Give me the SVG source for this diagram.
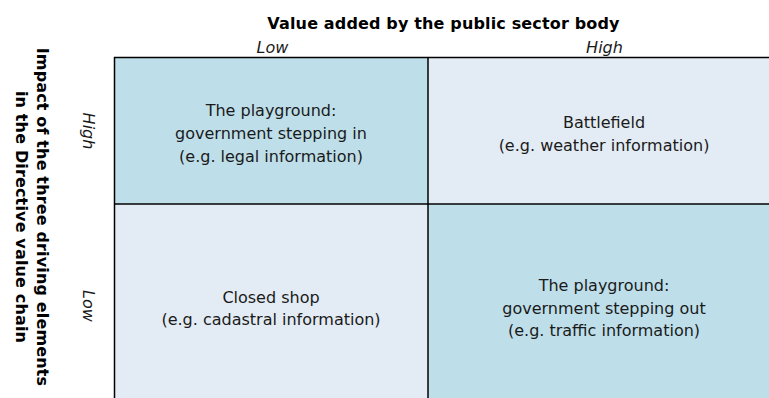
<svg xmlns="http://www.w3.org/2000/svg" width="769" height="398" viewBox="0 0 769 398">
<style>
.dark{fill:#BEDFEA}
.light{fill:#E3ECF4}
.cell{font-family:"DejaVu Sans","Liberation Sans",sans-serif;font-size:16px;fill:#1a1a1a;text-anchor:middle}
.axis{font-family:"DejaVu Sans","Liberation Sans",sans-serif;font-size:16px;font-weight:bold;fill:#000;text-anchor:middle;letter-spacing:0.15px}
.lvl{font-family:"DejaVu Sans","Liberation Sans",sans-serif;font-size:16px;font-style:italic;fill:#1a1a1a;text-anchor:middle}
.grid{stroke:#000;stroke-width:1.5;fill:none}
</style>
<rect width="769" height="398" fill="#fff"/>
<g id="q-playground-in">
<rect class="dark" x="114" y="57" width="314" height="147"/>
<text class="cell" x="271" y="115.5">The playground:</text>
<text class="cell" x="271" y="138.5">government stepping in</text>
<text class="cell" x="271" y="161.5">(e.g. legal information)</text>
</g>
<g id="q-battlefield">
<rect class="light" x="428" y="57" width="341" height="147"/>
<text class="cell" x="604" y="127.5">Battlefield</text>
<text class="cell" x="604" y="150.5">(e.g. weather information)</text>
</g>
<g id="q-closed-shop">
<rect class="light" x="114" y="204" width="314" height="194"/>
<text class="cell" x="271" y="302.5">Closed shop</text>
<text class="cell" x="271" y="325">(e.g. cadastral information)</text>
</g>
<g id="q-playground-out">
<rect class="dark" x="428" y="204" width="341" height="194"/>
<text class="cell" x="604" y="291">The playground:</text>
<text class="cell" x="604" y="313.5">government stepping out</text>
<text class="cell" x="604" y="336">(e.g. traffic information)</text>
</g>
<g id="grid" class="grid">
<line x1="114" y1="57.5" x2="769" y2="57.5"/>
<line x1="114.5" y1="57" x2="114.5" y2="398"/>
<line x1="428" y1="57" x2="428" y2="398"/>
<line x1="114" y1="204" x2="769" y2="204"/>
</g>
<g id="x-axis">
<text class="axis" x="443.5" y="29">Value added by the public sector body</text>
<text class="lvl" x="272.5" y="52.5">Low</text>
<text class="lvl" x="604.5" y="52.5">High</text>
</g>
<g id="y-axis">
<text class="axis" transform="translate(37,217) rotate(90)">Impact of the three driving elements</text>
<text class="axis" transform="translate(15.5,217) rotate(90)">in the Directive value chain</text>
<text class="lvl" transform="translate(83,131) rotate(90)">High</text>
<text class="lvl" transform="translate(83,306) rotate(90)">Low</text>
</g>
</svg>
